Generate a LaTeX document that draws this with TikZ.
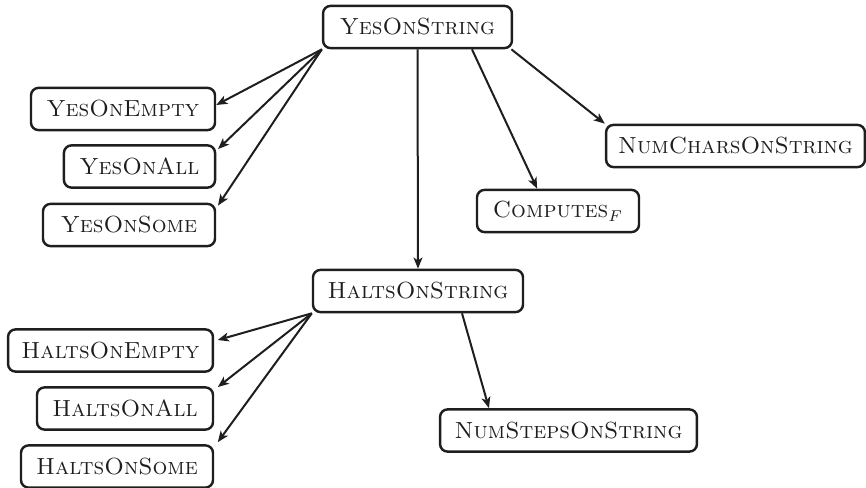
\documentclass[tikz,border=0pt]{standalone}
\usetikzlibrary{arrows.meta}
\definecolor{ink}{HTML}{1E1E1E}
\begin{document}
\begin{tikzpicture}[x=0.45pt,y=0.45pt,
  box/.style={draw=ink,line width=1.1pt,rounded corners=3.4pt,
    inner sep=0pt,minimum height=19pt,text=ink,font=\fontsize{10.5}{12.5}\selectfont},
  link/.style={draw=ink,line width=0.9pt,
    -{Stealth[length=5pt,width=4pt,inset=1.3pt]}}]
\useasboundingbox (0,0) rectangle (866,487);
% problems, top to bottom
\node[box,minimum width=85pt] (yes) at (417.5,460) {\textsc{YesOnString}};
\node[box,minimum width=82.8pt] (yempty) at (123,378) {\textsc{YesOnEmpty}};
\node[box,minimum width=68pt] (yall) at (139.5,320.5) {\textsc{YesOnAll}};
\node[box,minimum width=77.4pt] (ysome) at (129,262) {\textsc{YesOnSome}};
\node[box,minimum width=116.5pt] (nchars) at (735.5,341) {\textsc{NumCharsOnString}};
\node[box,minimum width=72.9pt] (comp) at (558,276) {\textsc{Computes}$_F$};
\node[box,minimum width=94.5pt] (halts) at (418,196) {\textsc{HaltsOnString}};
\node[box,minimum width=92.2pt] (hempty) at (110.5,136.5) {\textsc{HaltsOnEmpty}};
\node[box,minimum width=79.2pt] (hall) at (125,78.5) {\textsc{HaltsOnAll}};
\node[box,minimum width=86.4pt] (hsome) at (117,20.5) {\textsc{HaltsOnSome}};
\node[box,minimum width=115.6pt] (nsteps) at (568.5,56.5) {\textsc{NumStepsOnString}};
% reductions
\draw[link] (yes.south west) -- ([yshift=1.8pt]yempty.east);
\draw[link] (yes.south west) -- ([yshift=-2.2pt,xshift=0.8pt]yall.north east);
\draw[link] (yes.south west) -- ([yshift=-1.3pt,xshift=0.8pt]ysome.north east);
\draw[link] (yes.south) -- (halts.north);
\draw[link] ([xshift=24.5pt]yes.south) -- ([xshift=-9.4pt]comp.north);
\draw[link] ([xshift=-0.8pt]yes.south east) -- (nchars.north west);
\draw[link] (halts.south west) -- ([yshift=4.7pt,xshift=1.6pt]hempty.east);
\draw[link] (halts.south west) -- ([yshift=-0.4pt,xshift=1.6pt]hall.north east);
\draw[link] (halts.south west) -- ([yshift=0.9pt,xshift=1.6pt]hsome.north east);
\draw[link] ([xshift=19.8pt]halts.south) -- ([xshift=-35.8pt]nsteps.north);
\end{tikzpicture}
\end{document}
